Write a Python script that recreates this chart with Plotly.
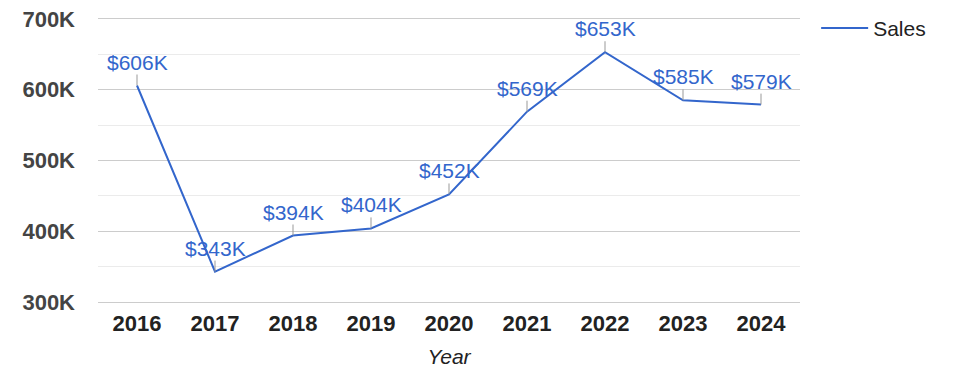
import plotly.graph_objects as go

years = ["2016", "2017", "2018", "2019", "2020", "2021", "2022", "2023", "2024"]
sales = [606000, 343000, 394000, 404000, 452000, 569000, 653000, 585000, 579000]
labels = ["$606K", "$343K", "$394K", "$404K", "$452K", "$569K", "$653K", "$585K", "$579K"]
y_ticks = [300000, 400000, 500000, 600000, 700000]
y_tick_text = ["300K", "400K", "500K", "600K", "700K"]

FONT = "Liberation Sans, Arial, sans-serif"
BLUE = "#3366cc"

fig = go.Figure()
fig.add_trace(go.Scatter(
    x=years, y=sales, mode="lines", name="Sales",
    line=dict(color=BLUE, width=2),
))

for i, (y, t) in enumerate(zip(sales, labels)):
    fig.add_annotation(
        x=i, y=y, xref="x", yref="y", text=t, showarrow=True, arrowhead=0,
        arrowwidth=1, arrowcolor="#999999", ax=0, ay=-11, yanchor="bottom",
        borderpad=0, font=dict(family=FONT, size=21, color=BLUE),
    )

fig.update_layout(
    width=975, height=378,
    margin=dict(l=90, r=183, t=11, b=84, autoexpand=False),
    paper_bgcolor="white", plot_bgcolor="white",
    font=dict(family=FONT, size=21, color="#222222"),
    showlegend=True,
    legend=dict(x=1.023, y=1.039, xanchor="left", yanchor="top", itemwidth=47,
                font=dict(family=FONT, size=21, color="#222222"),
                bgcolor="rgba(0,0,0,0)"),
    xaxis=dict(
        type="category", range=[-0.5, 8.5], showgrid=False, zeroline=False,
        showline=True, mirror=True, linecolor="#cccccc", linewidth=1,
        ticks="", ticklabelstandoff=2, automargin=False,
        tickfont=dict(family=FONT, size=22, color="#222222", weight="bold"),
        title=dict(text="<i>Year</i>", font=dict(family=FONT, size=21, color="#222222"),
                   standoff=13),
    ),
    yaxis=dict(
        range=[300000, 700000], tickvals=y_ticks, ticktext=y_tick_text,
        showgrid=True, gridcolor="#cccccc", gridwidth=1, zeroline=False,
        showline=False, ticks="", ticklabelstandoff=22, ticklabeloverflow="allow",
        automargin=False,
        tickfont=dict(family=FONT, size=22, color="#444444", weight="bold"),
        minor=dict(dtick=50000, showgrid=True, gridcolor="#ebebeb", gridwidth=1),
    ),
)

fig.write_html("out.html")
